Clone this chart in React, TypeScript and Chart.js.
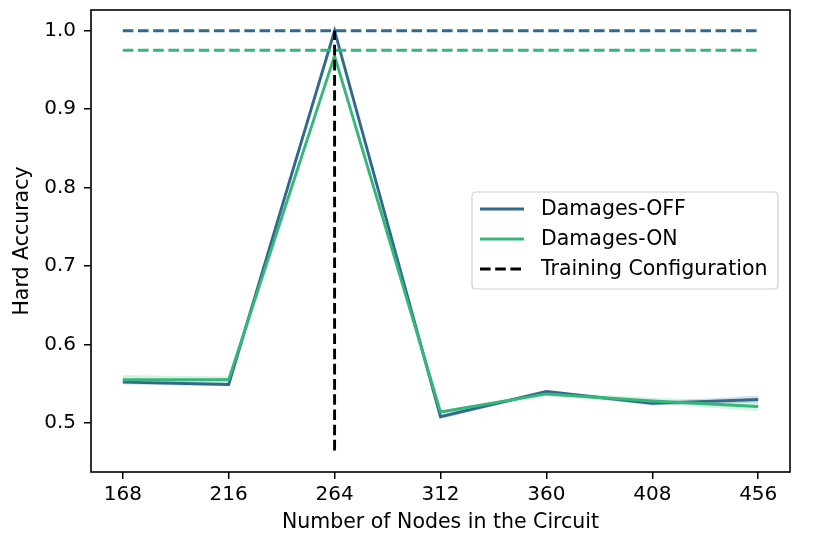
import React, { useEffect, useRef } from "react";
import { Chart, registerables } from "chart.js";

Chart.register(...registerables);

const nodes = [168, 216, 264, 312, 360, 408, 456];
const offMean = [0.552, 0.549, 1.0, 0.508, 0.540, 0.525, 0.530];
const offUpper = [0.555, 0.551, 1.0, 0.510, 0.542, 0.527, 0.535];
const offLower = [0.549, 0.547, 1.0, 0.505, 0.538, 0.522, 0.526];
const onMean = [0.555, 0.555, 0.968, 0.514, 0.537, 0.528, 0.521];
const onUpper = [0.561, 0.559, 0.972, 0.516, 0.539, 0.532, 0.527];
const onLower = [0.551, 0.550, 0.964, 0.511, 0.534, 0.525, 0.515];
const offBest = 1.0;
const onBest = 0.975;
const trainingNodes = 264;
const trainingRange = [0.465, 1.0];
const yTicks = [0.5, 0.6, 0.7, 0.8, 0.9, 1.0];
const labels = ["Damages-OFF", "Damages-ON", "Training Configuration"];

const BLUE = "#31688e";
const GREEN = "#35b779";
const FONT = "'DejaVu Sans', sans-serif";
const TXT = 20.5;
const TICK = 20;

const pts = (ys: number[]) => nodes.map((x, i) => ({ x, y: ys[i] }));

const framePlugin = {
  id: "frameLegend",
  afterDraw(chart: any) {
    const { ctx, chartArea: a } = chart;
    ctx.save();
    ctx.strokeStyle = "#000";
    ctx.lineWidth = 1.6;
    ctx.strokeRect(a.left, a.top, a.right - a.left, a.bottom - a.top);

    const bx = 472, by = 192, bw = 306, bh = 97, r = 4;
    ctx.beginPath();
    ctx.moveTo(bx + r, by);
    ctx.lineTo(bx + bw - r, by);
    ctx.quadraticCurveTo(bx + bw, by, bx + bw, by + r);
    ctx.lineTo(bx + bw, by + bh - r);
    ctx.quadraticCurveTo(bx + bw, by + bh, bx + bw - r, by + bh);
    ctx.lineTo(bx + r, by + bh);
    ctx.quadraticCurveTo(bx, by + bh, bx, by + bh - r);
    ctx.lineTo(bx, by + r);
    ctx.quadraticCurveTo(bx, by, bx + r, by);
    ctx.closePath();
    ctx.fillStyle = "rgba(255,255,255,0.8)";
    ctx.fill();
    ctx.strokeStyle = "#d0d0d0";
    ctx.lineWidth = 1.2;
    ctx.stroke();

    const rows = [
      { label: labels[0], color: BLUE, dash: [] as number[] },
      { label: labels[1], color: GREEN, dash: [] as number[] },
      { label: labels[2], color: "#000", dash: [10.6, 4.6] },
    ];
    const ys = [209, 239, 269];
    ctx.font = `${TXT}px ${FONT}`;
    ctx.textBaseline = "middle";
    ctx.textAlign = "left";
    rows.forEach((row, i) => {
      ctx.beginPath();
      ctx.setLineDash(row.dash);
      ctx.strokeStyle = row.color;
      ctx.lineWidth = 2.9;
      ctx.moveTo(480, ys[i]);
      ctx.lineTo(524, ys[i]);
      ctx.stroke();
      ctx.setLineDash([]);
      ctx.fillStyle = "#000";
      ctx.fillText(row.label, 541, ys[i] + 1);
    });
    ctx.restore();
  },
};

export default function App() {
  const ref = useRef<HTMLCanvasElement>(null);
  useEffect(() => {
    const dash = [10.6, 4.6];
    const chart = new Chart(ref.current!, {
      type: "line",
      data: {
        datasets: [
          {
            label: labels[2],
            data: [
              { x: trainingNodes, y: trainingRange[0] },
              { x: trainingNodes, y: trainingRange[1] },
            ],
            borderColor: "#000",
            borderWidth: 2.9,
            borderDash: dash,
            pointRadius: 0,
            fill: false,
          },
          {
            label: "ON best",
            data: [
              { x: nodes[0], y: onBest },
              { x: nodes[nodes.length - 1], y: onBest },
            ],
            borderColor: GREEN,
            borderWidth: 2.9,
            borderDash: dash,
            pointRadius: 0,
            fill: false,
          },
          {
            label: "OFF best",
            data: [
              { x: nodes[0], y: offBest },
              { x: nodes[nodes.length - 1], y: offBest },
            ],
            borderColor: BLUE,
            borderWidth: 2.9,
            borderDash: dash,
            pointRadius: 0,
            fill: false,
          },
          {
            label: labels[1],
            data: pts(onMean),
            borderColor: GREEN,
            borderWidth: 2.9,
            pointRadius: 0,
            fill: false,
          },
          {
            label: labels[0],
            data: pts(offMean),
            borderColor: BLUE,
            borderWidth: 2.9,
            pointRadius: 0,
            fill: false,
          },
          {
            label: "ON upper",
            data: pts(onUpper),
            borderColor: "rgba(0,0,0,0)",
            backgroundColor: "rgba(53,183,121,0.2)",
            pointRadius: 0,
            borderWidth: 0,
            fill: "+1",
          },
          {
            label: "ON lower",
            data: pts(onLower),
            borderColor: "rgba(0,0,0,0)",
            pointRadius: 0,
            borderWidth: 0,
            fill: false,
          },
          {
            label: "OFF upper",
            data: pts(offUpper),
            borderColor: "rgba(0,0,0,0)",
            backgroundColor: "rgba(49,104,142,0.2)",
            pointRadius: 0,
            borderWidth: 0,
            fill: "+1",
          },
          {
            label: "OFF lower",
            data: pts(offLower),
            borderColor: "rgba(0,0,0,0)",
            pointRadius: 0,
            borderWidth: 0,
            fill: false,
          },
        ],
      },
      options: {
        animation: false,
        responsive: false,
        devicePixelRatio: 1,
        layout: { padding: { left: 0, right: 36, top: 10, bottom: 0 } },
        plugins: {
          legend: { display: false },
          tooltip: { enabled: false },
        },
        scales: {
          x: {
            type: "linear",
            min: 153.6,
            max: 470.4,
            afterBuildTicks: (s: any) => {
              s.ticks = nodes.map((v) => ({ value: v }));
            },
            afterFit: (s: any) => {
              s.height = 78;
              s.paddingLeft = 0;
              s.paddingRight = 0;
            },
            grid: {
              drawOnChartArea: false,
              drawTicks: true,
              tickLength: 7,
              color: "#000",
              lineWidth: 1.5,
            },
            border: { display: false },
            ticks: {
              color: "#000",
              font: { family: FONT, size: TICK },
              padding: 4,
              maxRotation: 0,
              callback: (v: any) => String(v),
            },
            title: {
              display: true,
              text: "Number of Nodes in the Circuit",
              color: "#000",
              font: { family: FONT, size: TXT },
              padding: { top: 0, bottom: 15 },
            },
          },
          y: {
            type: "linear",
            min: 0.4375,
            max: 1.0264,
            afterBuildTicks: (s: any) => {
              s.ticks = yTicks.map((v) => ({ value: v }));
            },
            afterFit: (s: any) => {
              s.width = 91;
              s.paddingTop = 0;
              s.paddingBottom = 0;
            },
            grid: {
              drawOnChartArea: false,
              drawTicks: true,
              tickLength: 7,
              color: "#000",
              lineWidth: 1.5,
            },
            border: { display: false },
            ticks: {
              color: "#000",
              font: { family: FONT, size: TICK },
              padding: 8,
              callback: (v: any) => Number(v).toFixed(1),
            },
            title: {
              display: true,
              text: "Hard Accuracy",
              color: "#000",
              font: { family: FONT, size: TXT },
              padding: { top: 10, bottom: 0 },
            },
          },
        },
      },
      plugins: [framePlugin],
    } as any);
    return () => chart.destroy();
  }, []);
  return (
    <div style={{ position: "fixed", left: 0, top: 0, width: 826, height: 550, background: "#fff" }}>
      <canvas ref={ref} width={826} height={550} />
    </div>
  );
}
